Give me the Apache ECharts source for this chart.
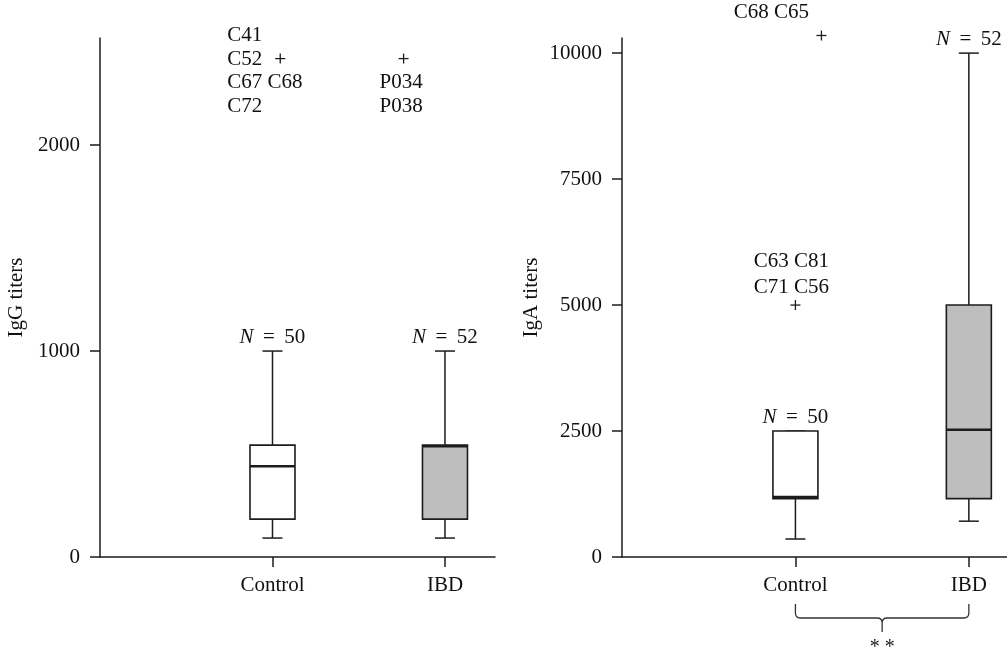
<!DOCTYPE html>
<html>
<head>
<meta charset="utf-8">
<script src="https://cdn.jsdelivr.net/npm/echarts@6/dist/echarts.min.js"></script>
<style>html,body{margin:0;padding:0;background:#fff}#c{width:1007px;height:648px}</style>
</head>
<body>
<div id="c"></div>
<script>
// ---- data ----
const categories = ['Control', 'IBD'];
const groupN = ['50', '52'];
// [lower whisker, Q1, median, Q3, upper whisker]
const iggStats = [[92, 184, 441, 543, 1000], [92, 184, 537, 543, 1000]];
const igaStats = [[357, 1158, 1190, 2500, 2500], [711, 1158, 2525, 5000, 10000]];
// outliers: [x position, value]
const iggOutliers = [[1.045, 2420], [1.76, 2420]];
const iggOutlierIds = ['C41\nC52\nC67 C68\nC72', 'P034\nP038'];
const igaOutliers = [[1.0, 5000], [1.15, 10350]];
const igaOutlierIds = ['C63 C81\nC71 C56', 'C68 C65'];
const iggTicks = [0, 1000, 2000];
const igaTicks = [0, 2500, 5000, 7500, 10000];
const significance = '* *';

// ---- style ----
const FONT = '"Liberation Serif", "DejaVu Serif", serif';
const FS = 21;
const INK = '#1c1c1c';
const fills = ['#ffffff', '#bebebe'];
// label layouts for outlier ids: [dx, dy(top), align, lineHeight]
const iggLabelLayout = [[-53, -35, 'left', 23.7], [-24, 12, 'left', 24]];
const igaLabelLayout = [[-4, -57, 'center', 26], [-50, -35, 'center', 24]];

const chart = echarts.init(document.getElementById('c'), null, {renderer: 'canvas'});

function boxRender(params, api) {
  const x = api.value(0);
  const lo = api.coord([x, api.value(1)]);
  const q1 = api.coord([x, api.value(2)]);
  const md = api.coord([x, api.value(3)]);
  const q3 = api.coord([x, api.value(4)]);
  const hi = api.coord([x, api.value(5)]);
  const cx = lo[0];
  const hw = 22.5, cap = 10;
  const idx = params.dataIndex;
  const ls = {stroke: INK, lineWidth: 1.5};
  const children = [
    {type: 'line', shape: {x1: cx, y1: q3[1], x2: cx, y2: hi[1]}, style: ls},
    {type: 'line', shape: {x1: cx, y1: q1[1], x2: cx, y2: lo[1]}, style: ls},
    {type: 'line', shape: {x1: cx - cap, y1: hi[1], x2: cx + cap, y2: hi[1]}, style: ls},
    {type: 'line', shape: {x1: cx - cap, y1: lo[1], x2: cx + cap, y2: lo[1]}, style: ls},
    {type: 'rect', shape: {x: cx - hw, y: q3[1], width: 2 * hw, height: q1[1] - q3[1]},
      style: {fill: fills[idx], stroke: INK, lineWidth: 1.6}},
    {type: 'line', shape: {x1: cx - hw, y1: md[1], x2: cx + hw, y2: md[1]}, style: {stroke: INK, lineWidth: 2.4}},
    {type: 'text', x: cx, y: hi[1] - 14, style: {
      text: '{i|N}{t| \u2009= \u2009' + groupN[idx] + '}',
      align: 'center', verticalAlign: 'middle',
      rich: {
        i: {fontFamily: FONT, fontSize: FS, fontStyle: 'italic', fill: '#111'},
        t: {fontFamily: FONT, fontSize: FS, fill: '#111'}
      }
    }}
  ];
  return {type: 'group', children: children};
}

function outlierRender(ids, layouts) {
  return function (params, api) {
    const p = api.coord([api.value(0), api.value(1)]);
    const i = params.dataIndex;
    const L = layouts[i];
    const s = {stroke: INK, lineWidth: 1.3};
    return {type: 'group', children: [
      {type: 'line', shape: {x1: p[0] - 5, y1: p[1], x2: p[0] + 5, y2: p[1]}, style: s},
      {type: 'line', shape: {x1: p[0], y1: p[1] - 5, x2: p[0], y2: p[1] + 5}, style: s},
      {type: 'text', x: p[0] + L[0], y: p[1] + L[1], style: {
        text: ids[i], fontFamily: FONT, fontSize: FS, fill: '#111',
        align: L[2], verticalAlign: 'top', lineHeight: L[3]
      }}
    ]};
  };
}

function bracketRender(params, api) {
  const a = api.coord([api.value(0), 0]);
  const b = api.coord([api.value(1), 0]);
  const base = a[1];
  const x1 = a[0], x2 = b[0], xm = (x1 + x2) / 2;
  const top = base + 47, hy = base + 61, tip = base + 75, r = 5;
  const d = 'M' + x1 + ',' + top + ' L' + x1 + ',' + (hy - r) +
    ' Q' + x1 + ',' + hy + ' ' + (x1 + r) + ',' + hy +
    ' L' + (xm - r) + ',' + hy + ' Q' + xm + ',' + hy + ' ' + xm + ',' + (hy + r) +
    ' L' + xm + ',' + tip +
    ' M' + xm + ',' + (hy + r) + ' Q' + xm + ',' + hy + ' ' + (xm + r) + ',' + hy +
    ' L' + (x2 - r) + ',' + hy + ' Q' + x2 + ',' + hy + ' ' + x2 + ',' + (hy - r) +
    ' L' + x2 + ',' + top;
  return {type: 'group', children: [
    {type: 'path', shape: {pathData: d}, style: {stroke: '#333', lineWidth: 1.3, fill: null}},
    {type: 'text', x: xm, y: base + 91, style: {text: significance, fontFamily: FONT, fontSize: 20,
      fill: '#222', align: 'center', verticalAlign: 'middle'}}
  ]};
}

function xAxis(gi, max) {
  return {
    type: 'value', gridIndex: gi, min: 0, max: max,
    axisLine: {show: true, lineStyle: {color: INK, width: 1.5}},
    axisTick: {show: true, length: 10, customValues: [1, 2], lineStyle: {color: INK, width: 1.5}},
    axisLabel: {customValues: [1, 2], formatter: v => categories[Math.round(v) - 1] || '',
      margin: 18, fontFamily: FONT, fontSize: FS, color: '#111'},
    splitLine: {show: false}
  };
}
function yAxis(gi, max, ticks, name, gap) {
  return {
    type: 'value', gridIndex: gi, min: 0, max: max,
    name: name, nameLocation: 'middle', nameGap: gap,
    nameTextStyle: {fontFamily: FONT, fontSize: FS, color: '#111'},
    axisLine: {show: true, lineStyle: {color: INK, width: 1.5}},
    axisTick: {show: true, length: 10, customValues: ticks, lineStyle: {color: INK, width: 1.5}},
    axisLabel: {customValues: ticks, formatter: v => String(v), margin: 20,
      fontFamily: FONT, fontSize: FS, color: '#111'},
    splitLine: {show: false}
  };
}

chart.setOption({
  backgroundColor: '#fff',
  animation: false,
  grid: [
    {left: 100, top: 38, width: 395, height: 519},
    {left: 622, top: 38, width: 385, height: 519}
  ],
  xAxis: [xAxis(0, 2.29), xAxis(1, 2.22)],
  yAxis: [yAxis(0, 2520, iggTicks, 'IgG titers', 73), yAxis(1, 10300, igaTicks, 'IgA titers', 80)],
  series: [
    {type: 'custom', xAxisIndex: 0, yAxisIndex: 0, renderItem: boxRender,
      data: iggStats.map((s, i) => [i + 1].concat(s))},
    {type: 'custom', xAxisIndex: 1, yAxisIndex: 1, renderItem: boxRender,
      data: igaStats.map((s, i) => [i + 1].concat(s))},
    {type: 'custom', xAxisIndex: 0, yAxisIndex: 0, renderItem: outlierRender(iggOutlierIds, iggLabelLayout),
      data: iggOutliers},
    {type: 'custom', xAxisIndex: 1, yAxisIndex: 1, renderItem: outlierRender(igaOutlierIds, igaLabelLayout),
      data: igaOutliers},
    {type: 'custom', xAxisIndex: 1, yAxisIndex: 1, renderItem: bracketRender,
      data: [[1, 2]]}
  ]
});
</script>
</body>
</html>
